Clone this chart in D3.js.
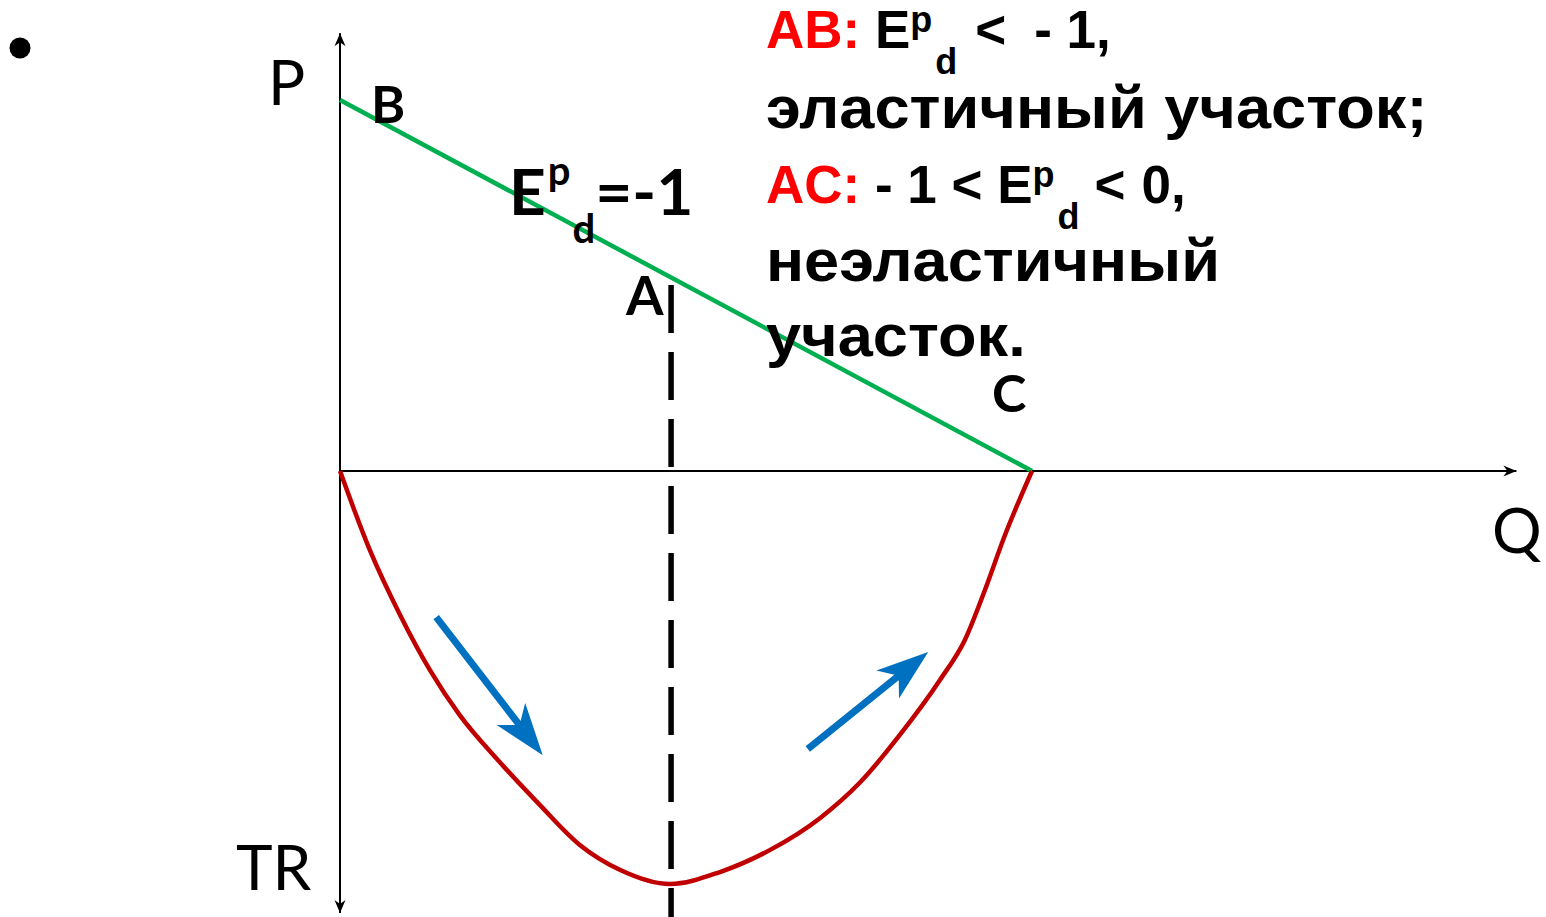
<!DOCTYPE html>
<html>
<head>
<meta charset="utf-8">
<script src="https://cdn.jsdelivr.net/npm/d3@7"></script>
<style>
  body { margin: 0; background: #fff; }
  .lbl { font-family: Lato, "Open Sans", sans-serif; }
  .txt { font-family: "Liberation Sans", Arial, sans-serif; font-weight: bold; white-space: pre; }
</style>
</head>
<body>
<svg id="chart" width="1546" height="917"></svg>
<script>
// demand line B -> C, in (Q, P)
let demandQ = [0, 100];
let demandP = [100, 0];
// total revenue curve, in (Q, TR), TR drawn downward
let trQ = [0, 4.3, 8.7, 13, 17.3, 23.1, 28.9, 34.7, 40.5, 47.7, 54.9, 62.1, 69.4, 75.1, 80.9, 86.7, 90.3, 93.2, 96.1, 100];
let trVal = [0, 19.1, 34.9, 48.2, 59.1, 70.5, 80.9, 90.6, 96.6, 100, 97.1, 91.8, 84, 75.5, 63.9, 50.6, 40.9, 28.8, 15.5, 0];
let unitQ = 47.7;   // point A, E = -1
// blue trend arrows: [Q0, TR0, Q1, TR1]
let trendArrows = [[13.9, 35.4, 29.3, 68.8], [67.6, 67.3, 85.0, 43.8]];

let svg = d3.select('#chart');

let x = d3.scaleLinear().domain([0, 100]).range([340, 1032]);
let yP = d3.scaleLinear().domain([0, 100]).range([471, 100]);
let yTR = d3.scaleLinear().domain([0, 100]).range([471, 884]);

// small axis arrowhead
function axisHead(tx, ty, ang) {
    let pts = [[0, 0], [-13, -5.5], [-9, 0], [-13, 5.5]];
    let c = Math.cos(ang), s = Math.sin(ang);
    let p = pts.map(d => [tx + d[0] * c - d[1] * s, ty + d[0] * s + d[1] * c]);
    svg.append("path").attr("d", "M" + p.join("L") + "Z").attr("fill", "#000");
}

// axes
svg.append("line").attr("x1", x(0)).attr("x2", x(0)).attr("y1", yP(118)).attr("y2", yTR(107))
    .attr("stroke", "#000").attr("stroke-width", 2);
svg.append("line").attr("x1", x(0)).attr("x2", x(170)).attr("y1", yP(0)).attr("y2", yP(0))
    .attr("stroke", "#000").attr("stroke-width", 2);
axisHead(x(0), yP(118), -Math.PI / 2);
axisHead(x(0), yTR(107), Math.PI / 2);
axisHead(x(170), yP(0), 0);

// dashed line at A
svg.append("line").attr("x1", x(unitQ) + 1).attr("x2", x(unitQ) + 1)
    .attr("y1", 285).attr("y2", 917)
    .attr("stroke", "#000").attr("stroke-width", 5.5)
    .attr("stroke-dasharray", "48,19");

// demand line
svg.append("path")
    .datum(demandQ.map((q, i) => [q, demandP[i]]))
    .attr("d", d3.line().x(d => x(d[0])).y(d => yP(d[1])))
    .attr("fill", "none").attr("stroke", "#00b050").attr("stroke-width", 4.5);

// TR curve
svg.append("path")
    .datum(trQ.map((q, i) => [q, trVal[i]]))
    .attr("d", d3.line().x(d => x(d[0])).y(d => yTR(d[1])).curve(d3.curveMonotoneX))
    .attr("fill", "none").attr("stroke", "#c00000").attr("stroke-width", 4.5);

// blue arrows
trendArrows.forEach(function (a) {
    let x0 = x(a[0]), y0 = yTR(a[1]), x1 = x(a[2]), y1 = yTR(a[3]);
    let ang = Math.atan2(y1 - y0, x1 - x0);
    let c = Math.cos(ang), s = Math.sin(ang);
    svg.append("line").attr("x1", x0).attr("y1", y0)
        .attr("x2", x1 - 30 * c).attr("y2", y1 - 30 * s)
        .attr("stroke", "#0070c0").attr("stroke-width", 7);
    let pts = [[0, 0], [-52, -18], [-38, 0], [-52, 18]];
    let p = pts.map(d => [x1 + d[0] * c - d[1] * s, y1 + d[0] * s + d[1] * c]);
    svg.append("path").attr("d", "M" + p.join("L") + "Z").attr("fill", "#0070c0");
});

// bullet
svg.append("circle").attr("cx", 20).attr("cy", 48).attr("r", 10.5).attr("fill", "#000");

// axis labels
svg.append("text").attr("class", "lbl").attr("x", 268).attr("y", 105).attr("font-size", 62).text("P");
svg.append("text").attr("class", "lbl").attr("x", 236).attr("y", 890).attr("font-size", 62).text("TR");
svg.append("text").attr("class", "lbl").attr("x", 1492).attr("y", 553).attr("font-size", 62).text("Q");

// point labels
svg.append("text").attr("class", "lbl").attr("font-weight", "bold").attr("x", 371).attr("y", 123).attr("font-size", 52).text("B");
svg.append("text").attr("class", "lbl").attr("font-weight", "bold").attr("x", 626).attr("y", 315).attr("font-size", 54).text("A");
svg.append("text").attr("class", "lbl").attr("font-weight", "bold").attr("x", 992).attr("y", 412).attr("font-size", 52).text("C");

// E = -1 label
let e1 = svg.append("text").attr("class", "lbl").attr("font-weight", "bold").attr("x", 509).attr("y", 215).attr("font-size", 64);
e1.append("tspan").text("E");
e1.append("tspan").attr("font-size", 40).attr("dx", 2).attr("dy", -30).text("p");
e1.append("tspan").attr("font-size", 40).attr("dx", 2).attr("dy", 58).text("d");
e1.append("tspan").attr("dy", -28).text("=-1");

// right text block: formula lines
function elastLine(yy, red, pre, rel, post, gap1, gap2) {
    let t = svg.append("text").attr("class", "txt").attr("x", 766).attr("y", yy).attr("font-size", 53);
    t.append("tspan").attr("fill", "#ff0000").text(red);
    t.append("tspan").attr("fill", "#000").text(pre + "E");
    t.append("tspan").attr("font-size", 36).attr("dy", -16).text("p");
    t.append("tspan").attr("font-size", 36).attr("dx", 3).attr("dy", 42).text("d");
    t.append("tspan").attr("dx", gap1).attr("dy", -26).text(rel);
    t.append("tspan").attr("dx", gap2).text(post);
}
elastLine(48, "AB:", " ", "<", "- 1,", 18, 28);
elastLine(203, "AC:", " - 1 < ", "<", "0,", 15, 16);

// right text block: plain lines, stretched a little
let block = svg.append("g").attr("transform", "translate(766,0) scale(1.07,1)");
block.append("text").attr("class", "txt").attr("x", 0).attr("y", 128).attr("font-size", 59).text("эластичный участок;");
block.append("text").attr("class", "txt").attr("x", 0).attr("y", 281).attr("font-size", 59).text("неэластичный");
block.append("text").attr("class", "txt").attr("x", 0).attr("y", 356).attr("font-size", 59).text("участок.");
</script>
</body>
</html>
